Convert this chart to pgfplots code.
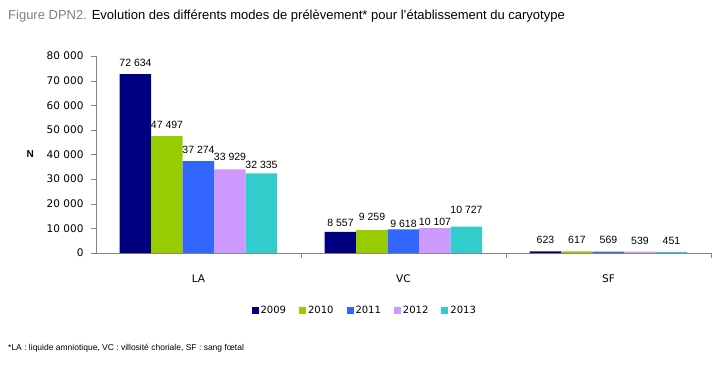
\documentclass[border=0pt]{standalone}
\usepackage{fontspec}
\setmainfont{Liberation Sans}
\newfontfamily\dejavu{DejaVu Sans}
\usepackage{pgfplots}
\pgfplotsset{compat=1.18}
\definecolor{c09}{HTML}{000080}
\definecolor{c10}{HTML}{99CC00}
\definecolor{c11}{HTML}{3366FF}
\definecolor{c12}{HTML}{CC99FF}
\definecolor{c13}{HTML}{33CCCC}
\definecolor{axgray}{HTML}{868686}
\pgfplotsset{sqlegend/.style={legend image code/.code={\fill[##1] (0pt,-3.5pt) rectangle (7pt,3.5pt);}}}
\begin{document}
\begin{tikzpicture}
\useasboundingbox (0,0) rectangle (724pt,-370pt);
\node[anchor=base west, inner sep=0, font=\fontsize{13}{15}\selectfont] at (8pt,-19pt) {\textcolor{gray}{Figure DPN2.} Evolution des différents modes de prélèvement* pour l'établissement du caryotype};
\begin{axis}[
 at={(96pt,-253pt)}, anchor=south west, scale only axis, width=615pt, height=197pt,
 clip=false,
 ymin=0, ymax=80000, ytick={0,10000,...,80000},
 xmin=-0.5, xmax=2.5,
 xtick={0.5,1.5,2.5}, xticklabels={},
 extra x ticks={0,1,2}, extra x tick labels={LA,VC,SF},
 extra x tick style={major tick length=0pt, tick label style={yshift=-18pt}},
 axis x line*=bottom, axis y line*=left,
 axis line style={draw=axgray, -},
 tick style={draw=axgray},
 tick align=outside, major tick length=5pt,
 scaled y ticks=false,
 /pgf/number format/assume math mode=true,
 /pgf/number format/1000 sep={\ },
 ticklabel style={font=\dejavu\fontsize{10.5}{12}\selectfont},
 yticklabel style={xshift=-4pt},
 ylabel={N},
 y label style={at={(axis description cs:-0.107,0.5)}, anchor=center, rotate=-90, font=\bfseries\fontsize{10}{12}\selectfont},
 ybar=0pt, bar width=31.5pt,
 visualization depends on={\thisrow{dy} \as \dy},
 nodes near coords={\pgfmathprintnumber[1000 sep={\ }]{\pgfplotspointmeta}},
 nodes near coords style={font=\fontsize{10.5}{12}\selectfont, text=black, yshift=\dy pt},
 legend style={at={(axis description cs:0.437,-0.29)}, anchor=center, draw=none,
   font=\dejavu\fontsize{10}{12}\selectfont,
   /tikz/every even column/.append style={column sep=11pt}},
 legend columns=5,
]
\addplot[fill=c09, draw=none, sqlegend] table[x=x,y=y] {
x y dy
0 72634 4
1 8557 1.6
2 623 4
};
\addplot[fill=c10, draw=none, sqlegend] table[x=x,y=y] {
x y dy
0 47497 4
1 9259 5.6
2 617 4
};
\addplot[fill=c11, draw=none, sqlegend] table[x=x,y=y] {
x y dy
0 37274 4
1 9618 -1.4
2 569 4
};
\addplot[fill=c12, draw=none, sqlegend] table[x=x,y=y] {
x y dy
0 33929 5
1 10107 -1.4
2 539 4
};
\addplot[fill=c13, draw=none, sqlegend] table[x=x,y=y] {
x y dy
0 32335 1.2
1 10727 9.6
2 451 4
};
\legend{2009,2010,2011,2012,2013}
\end{axis}
\node[anchor=base west, inner sep=0, font=\fontsize{8.5}{10}\selectfont] at (8pt,-350pt) {*LA : liquide amniotique, VC : villosité choriale, SF : sang fœtal};
\end{tikzpicture}
\end{document}
